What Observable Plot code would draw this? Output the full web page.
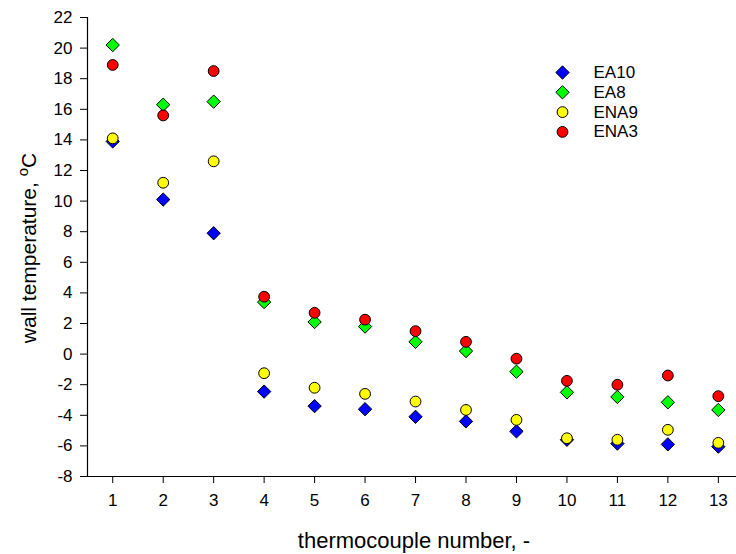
<!DOCTYPE html>
<html><head><meta charset="utf-8">
<script src="https://cdn.jsdelivr.net/npm/d3@7"></script>
<script src="https://cdn.jsdelivr.net/npm/@observablehq/plot@0.6"></script>
<style>
body{margin:0;background:#fff}
#chart{position:relative;width:736px;height:554px}
</style>
</head><body><div id="chart"></div>
<script>
const thermocouples = [1,2,3,4,5,6,7,8,9,10,11,12,13];
const seriesNames = ["EA10","EA8","ENA9","ENA3"];
const EA10 = [13.9, 10.1, 7.9, -2.45, -3.4, -3.6, -4.1, -4.4, -5.05, -5.6, -5.85, -5.9, -6.05];
const EA8  = [20.2, 16.3, 16.5, 3.4, 2.1, 1.8, 0.8, 0.2, -1.15, -2.5, -2.8, -3.15, -3.65];
const ENA9 = [14.1, 11.2, 12.6, -1.25, -2.2, -2.6, -3.1, -3.65, -4.3, -5.5, -5.6, -4.95, -5.8];
const ENA3 = [18.9, 15.6, 18.5, 3.75, 2.7, 2.25, 1.5, 0.8, -0.3, -1.75, -2.0, -1.4, -2.75];
const xTicks = [1,2,3,4,5,6,7,8,9,10,11,12,13];
const yTicks = [-8,-6,-4,-2,0,2,4,6,8,10,12,14,16,18,20,22];
const xDomain = [0.5, 13.36];
const yDomain = [-8, 22];
const xTitle = "thermocouple number, -";
const yTitleMain = "wall temperature, ";
const yTitleSup = "o";
const yTitleEnd = "C";

const seriesValues = [EA10, EA8, ENA9, ENA3];
const colors = ["#0000ff", "#00ff00", "#ffff00", "#ff0000"];
const symbols = ["diamond2", "diamond2", "circle", "circle"];
const radii = [6, 6, 5.4, 5.4];

const rows = [];
seriesNames.forEach((s, i) => thermocouples.forEach((t, j) => rows.push({series: s, x: t, y: seriesValues[i][j]})));

const font = "'Liberation Sans', Arial, sans-serif";
const marks = [
  Plot.ruleX([xDomain[0]], {stroke: "#000", strokeWidth: 1.2}),
  Plot.ruleY([yDomain[0]], {stroke: "#000", strokeWidth: 1.2}),
  Plot.axisX({ticks: xTicks, tickSize: 7, tickPadding: 10, fontSize: 17, label: null, tickFormat: d => String(d)}),
  Plot.axisY({ticks: yTicks, tickSize: 7, tickPadding: 8, fontSize: 17, label: null, tickFormat: d => String(d)})
];
seriesNames.forEach((s, i) => {
  marks.push(Plot.dot(rows.filter(r => r.series === s), {
    x: "x", y: "y", symbol: symbols[i], r: radii[i], fill: colors[i], stroke: "#000", strokeWidth: 1
  }));
});
// legend
seriesNames.forEach((s, i) => {
  marks.push(Plot.dot([s], {frameAnchor: "top-left", dx: 475, dy: 55 + i * 19.8, symbol: symbols[i], r: radii[i], fill: colors[i], stroke: "#000", strokeWidth: 1}));
  marks.push(Plot.text([s], {text: d => d, frameAnchor: "top-left", dx: 506, dy: 55 + i * 19.8, textAnchor: "start", lineAnchor: "middle", fontSize: 17, fill: "#000"}));
});

const plot = Plot.plot({
  width: 736, height: 554,
  marginLeft: 87, marginRight: 0, marginTop: 17, marginBottom: 78,
  style: {fontFamily: font, color: "#000", background: "#fff", overflow: "visible"},
  x: {domain: xDomain, label: null},
  y: {domain: yDomain, label: null},
  marks
});
const svg = d3.select(plot);
svg.append("text")
  .attr("x", 414).attr("y", 548)
  .attr("text-anchor", "middle")
  .attr("font-family", font).attr("font-size", 22).attr("fill", "#000")
  .text(xTitle);
const yt = svg.append("text")
  .attr("transform", "translate(36,248) rotate(-90)")
  .attr("text-anchor", "middle")
  .attr("font-family", font).attr("font-size", 21).attr("fill", "#000");
yt.append("tspan").text(yTitleMain);
yt.append("tspan").attr("font-size", 15).attr("dy", -8).text(yTitleSup);
yt.append("tspan").attr("dy", 8).text(yTitleEnd);
document.getElementById("chart").appendChild(plot);
</script>
</body></html>
